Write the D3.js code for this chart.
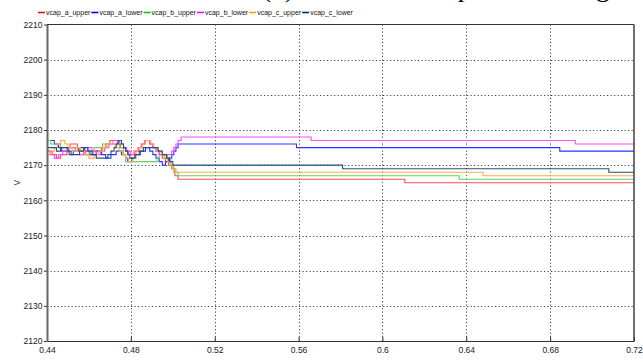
<!DOCTYPE html>
<html>
<head>
<meta charset="utf-8">
<script src="https://cdn.jsdelivr.net/npm/d3@7"></script>
<style>
  html, body { margin: 0; padding: 0; background: #fff; }
  svg { display: block; }
</style>
</head>
<body>
<svg id="chart" width="643" height="362"></svg>
<script>
// Submodule capacitor voltages of arms a, b, c (step samples: [time s, voltage V])
const seriesNames = ["vcap_a_upper", "vcap_a_lower", "vcap_b_upper", "vcap_b_lower", "vcap_c_upper", "vcap_c_lower"];
const seriesColors = ["#ff4f4f", "#3030ff", "#5fd45f", "#ff4cff", "#ffab45", "#24507c"];
const legendColors = ["#ff0000", "#0000ff", "#00cc00", "#ff00ff", "#ff9900", "#003366"];

const vcapAUpper = [[0.440,2174],[0.4425,2173],[0.4445,2172],[0.4465,2173],[0.4495,2175],[0.451,2176],[0.4545,2175],[0.456,2174],[0.4585,2173],[0.462,2174],[0.466,2175],[0.468,2176],[0.470,2177],[0.4735,2176],[0.475,2175],[0.4775,2174],[0.479,2173],[0.4815,2174],[0.4835,2175],[0.485,2176],[0.4865,2177],[0.489,2176],[0.4905,2175],[0.492,2174],[0.4935,2173],[0.495,2172],[0.4965,2171],[0.498,2170],[0.4995,2169],[0.501,2167],[0.5025,2166],[0.6107,2165]];
const vcapALower = [[0.440,2177],[0.4435,2176],[0.4455,2175],[0.447,2174],[0.4505,2173],[0.4525,2174],[0.455,2175],[0.458,2174],[0.4605,2173],[0.4635,2174],[0.466,2173],[0.468,2172],[0.4705,2173],[0.473,2174],[0.4755,2173],[0.4775,2172],[0.4785,2171],[0.4805,2172],[0.482,2173],[0.4845,2174],[0.487,2175],[0.489,2174],[0.4905,2173],[0.492,2172],[0.4935,2171],[0.495,2170],[0.4965,2171],[0.498,2172],[0.4995,2173],[0.5005,2174],[0.5015,2175],[0.5025,2176],[0.559,2175],[0.6846,2174]];
const vcapBUpper = [[0.440,2177],[0.4418,2176],[0.4465,2175],[0.4555,2174],[0.4575,2173],[0.4600,2174],[0.4625,2175],[0.4665,2176],[0.4745,2175],[0.4765,2173],[0.4775,2171],[0.4925,2172],[0.4935,2173],[0.4975,2172],[0.4990,2170],[0.5005,2168],[0.5025,2167],[0.6366,2166]];
const vcapBLower = [[0.440,2174],[0.4415,2173],[0.4435,2172],[0.4455,2173],[0.4475,2174],[0.4505,2175],[0.4535,2174],[0.4555,2173],[0.4575,2174],[0.4595,2175],[0.4615,2174],[0.4635,2173],[0.4655,2174],[0.4675,2175],[0.4695,2176],[0.4715,2177],[0.4745,2176],[0.4765,2175],[0.4780,2174],[0.4800,2173],[0.4820,2174],[0.4835,2175],[0.4850,2176],[0.4865,2177],[0.4890,2176],[0.4905,2175],[0.4920,2174],[0.4935,2173],[0.4995,2174],[0.5005,2175],[0.5015,2176],[0.5025,2177],[0.5040,2178],[0.5660,2177],[0.6920,2176]];
const vcapCUpper = [[0.440,2173],[0.4415,2174],[0.4435,2175],[0.445,2176],[0.4465,2177],[0.4485,2176],[0.4500,2175],[0.4520,2174],[0.4545,2175],[0.4560,2174],[0.4580,2173],[0.4600,2172],[0.4625,2173],[0.4645,2174],[0.4665,2175],[0.4685,2176],[0.4725,2175],[0.4745,2174],[0.4760,2173],[0.4775,2172],[0.4790,2171],[0.4810,2172],[0.4825,2174],[0.4840,2175],[0.4855,2176],[0.4870,2177],[0.4895,2176],[0.4910,2175],[0.4925,2174],[0.4945,2173],[0.4960,2172],[0.4975,2171],[0.4990,2170],[0.5000,2169],[0.5015,2168],[0.6480,2167]];
const vcapCLower = [[0.440,2175],[0.4445,2174],[0.4465,2175],[0.4500,2174],[0.4515,2173],[0.4555,2174],[0.4575,2175],[0.4595,2174],[0.4615,2173],[0.4635,2172],[0.4690,2173],[0.4705,2174],[0.4720,2175],[0.4730,2176],[0.4740,2177],[0.4755,2176],[0.4765,2175],[0.4775,2174],[0.4785,2173],[0.4795,2172],[0.4820,2173],[0.4840,2174],[0.4860,2175],[0.4930,2174],[0.4950,2173],[0.4970,2172],[0.4985,2171],[0.5000,2170],[0.5810,2169],[0.7080,2168]];

const xTicks = [0.44, 0.48, 0.52, 0.56, 0.6, 0.64, 0.68, 0.72];
const yTicks = [2120, 2130, 2140, 2150, 2160, 2170, 2180, 2190, 2200, 2210];
const titleText = "(b) Submodule capacitor voltage";
const yLabel = "V";

const allSeries = [vcapAUpper, vcapALower, vcapBUpper, vcapBLower, vcapCUpper, vcapCLower];

const margin = { left: 47, right: 9, top: 24.5, bottom: 21 };
const W = 643, H = 362;
const svg = d3.select("#chart");

const x = d3.scaleLinear().domain([0.44, 0.72]).range([margin.left, W - margin.right]);
const y = d3.scaleLinear().domain([2120, 2210]).range([H - margin.bottom, margin.top]);

const font = "'Liberation Sans', Arial, sans-serif";

// heading, sitting above the top edge of the page
svg.append("text")
  .attr("x", 262).attr("y", -3)
  .attr("font-family", "'Liberation Serif', 'Times New Roman', serif")
  .attr("font-size", 26)
  .attr("textLength", 360).attr("lengthAdjust", "spacingAndGlyphs")
  .attr("fill", "#000")
  .text(titleText);

// grid
const grid = svg.append("g").attr("stroke", "#444").attr("stroke-width", 1).attr("stroke-dasharray", "1.2,2.3");
grid.selectAll("line.v").data(xTicks.slice(1, -1)).join("line")
  .attr("x1", d => Math.round(x(d)) + 0.5).attr("x2", d => Math.round(x(d)) + 0.5)
  .attr("y1", y(2210)).attr("y2", y(2120));
grid.selectAll("line.h").data(yTicks.slice(1, -1)).join("line")
  .attr("x1", x(0.44)).attr("x2", x(0.72))
  .attr("y1", d => Math.round(y(d)) + 0.5).attr("y2", d => Math.round(y(d)) + 0.5);

// series
const line = d3.line().x(d => x(d[0])).y(d => y(d[1])).curve(d3.curveStepAfter);
const plot = svg.append("g");
allSeries.forEach((s, i) => {
  const pts = s.concat([[0.72, s[s.length - 1][1]]]);
  plot.append("path")
    .attr("d", line(pts))
    .attr("fill", "none")
    .attr("stroke", seriesColors[i])
    .attr("stroke-width", 1.1);
});

// frame
svg.append("line").attr("x1", x(0.44)).attr("x2", x(0.72)).attr("y1", y(2210)).attr("y2", y(2210)).attr("stroke", "#333").attr("stroke-width", 1.2);
svg.append("line").attr("x1", x(0.72)).attr("x2", x(0.72)).attr("y1", y(2210)).attr("y2", y(2120)).attr("stroke", "#333").attr("stroke-width", 1.4);

// axes
const xAxis = d3.axisBottom(x).tickValues(xTicks).tickSizeInner(-4).tickSizeOuter(0).tickPadding(6)
  .tickFormat(d => String(+d.toFixed(2)));
const gx = svg.append("g").attr("transform", `translate(0,${y(2120)})`).call(xAxis);
gx.select(".domain").attr("stroke", "#333").attr("stroke-width", 1.2);
gx.selectAll(".tick line").attr("stroke", "#333");
gx.selectAll(".tick text").attr("font-family", font).attr("font-size", 8.5).attr("fill", "#222");

const yAxis = d3.axisLeft(y).tickValues(yTicks).tickSizeInner(3).tickSizeOuter(0).tickPadding(1.5)
  .tickFormat(d3.format("d"));
const gy = svg.append("g").attr("transform", `translate(${x(0.44)},0)`).call(yAxis);
gy.select(".domain").attr("stroke", "#666").attr("stroke-width", 2);
gy.selectAll(".tick line").attr("stroke", "#333");
gy.selectAll(".tick text").attr("font-family", font).attr("font-size", 8.5).attr("fill", "#222");

svg.append("text")
  .attr("transform", `translate(20,${(y(2165))}) rotate(-90)`)
  .attr("text-anchor", "middle")
  .attr("font-family", font).attr("font-size", 8.5).attr("fill", "#222")
  .text(yLabel);

// legend
const legend = svg.append("g").attr("transform", "translate(38,12.5)");
let cx = 0;
seriesNames.forEach((name, i) => {
  legend.append("line").attr("x1", cx).attr("x2", cx + 7).attr("y1", 0).attr("y2", 0)
    .attr("stroke", legendColors[i]).attr("stroke-width", 1.6);
  const t = legend.append("text").attr("x", cx + 8).attr("y", 2.5)
    .attr("font-family", font).attr("font-size", 7).attr("fill", "#111").text(name);
  cx += 8 + t.node().getComputedTextLength() + 1;
});
</script>
</body>
</html>
